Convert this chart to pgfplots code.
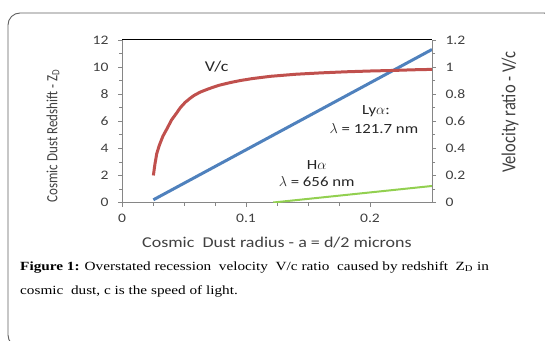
\documentclass[border=0pt]{standalone}
\usepackage{fontspec}
\setmainfont{Carlito}[FakeStretch=1.2]
\newfontfamily\plainfont{Carlito}
\newfontfamily\capfont{Liberation Serif}[FakeStretch=1.22]
\usepackage{pgfplots}
\pgfplotsset{compat=1.18}
\definecolor{rd}{RGB}{192,80,77}
\definecolor{bl}{RGB}{79,129,189}
\definecolor{gr}{RGB}{146,208,80}
\definecolor{axgray}{RGB}{134,134,134}
\definecolor{txt}{RGB}{64,64,64}
\pgfplotsset{
  common/.style={
    at={(122pt,137.5pt)}, anchor=south west, scale only axis,
    width=310pt, height=162.5pt, xmin=0, xmax=0.25,
    axis line style={axgray, line width=0.8pt},
    tick align=outside, major tick length=4pt, minor tick length=3pt,
    tick style={axgray, line width=0.6pt},
    every tick label/.append style={font=\fontsize{13}{13}\selectfont, text=txt},
    /pgf/number format/assume math mode=true,
  }
}
\begin{document}
\begin{tikzpicture}
\useasboundingbox (0pt,0pt) rectangle (545pt,340pt);
\draw[gray!75!black, line width=0.9pt, rounded corners=12pt] (8pt,-7pt) rectangle (556pt,327pt);
\begin{axis}[common,
  axis x line*=bottom, axis y line*=left,
  ymin=0, ymax=12,
  xtick={0,0.1,0.2}, minor x tick num=3,
  ytick={0,2,4,6,8,10,12}, minor y tick num=1,
  xticklabel style={yshift=-4pt},
  yticklabel style={xshift=-6pt},
]
\addplot[bl, line width=3pt, no marks] coordinates {(0.0253,0.2) (0.25,11.3)};
\addplot[gr, line width=2pt, no marks] coordinates {(0.122,0) (0.25,1.22)};
\node[font=\fontsize{15}{15}\selectfont, text=black!85] at (axis cs:0.0764,10.04) {V/c};
\node[font=\fontsize{14}{14}\selectfont, text=black!85] at (axis cs:0.2048,6.77) {Ly$\alpha$:};
\node[font=\fontsize{14}{14}\selectfont, text=black!85] at (axis cs:0.2032,5.44) {$\lambda$ = 121.7 nm};
\node[font=\fontsize{14}{14}\selectfont, text=black!85] at (axis cs:0.157,2.77) {H$\alpha$};
\node[font=\fontsize{14}{14}\selectfont, text=black!85] at (axis cs:0.157,1.52) {$\lambda$ = 656 nm};
\end{axis}
\begin{axis}[common,
  axis x line=none, axis y line*=right,
  ymin=0, ymax=1.2,
  ytick={0,0.2,0.4,0.6,0.8,1,1.2}, minor y tick num=1,
  yticklabel style={xshift=6pt},
]
\addplot[rd, line width=3pt, no marks, line join=round] coordinates {
(0.0253,0.20) (0.0265,0.28) (0.028,0.36) (0.030,0.42) (0.033,0.49)
(0.036,0.54) (0.040,0.61) (0.044,0.66) (0.047,0.70) (0.051,0.74)
(0.055,0.77) (0.058,0.79) (0.063,0.815) (0.070,0.84) (0.078,0.865)
(0.087,0.885) (0.095,0.90) (0.105,0.915) (0.120,0.932) (0.140,0.947)
(0.160,0.957) (0.180,0.965) (0.200,0.971) (0.218,0.975) (0.235,0.98) (0.250,0.983)};
\end{axis}
\draw[black, line width=1pt] (122pt,300pt) -- (432pt,300pt);
\node[rotate=90, font=\plainfont\fontsize{13}{13}\selectfont, text=txt] at (53pt,204pt) {\scalebox{1}[1.2]{Cosmic Dust Redshift - Z\textsubscript{D}}};
\node[rotate=90, font=\plainfont\fontsize{16.5}{16.5}\selectfont, text=txt] at (510pt,228pt) {\scalebox{1}[1.2]{Velocity ratio - V/c}};
\node[font=\fontsize{15}{15}\selectfont, text=txt] at (277pt,97pt) {Cosmic\ \ Dust radius - a = d/2 microns};
\node[anchor=base west, font=\capfont\fontsize{12.5}{12.5}\selectfont, inner sep=0pt] at (20pt,70pt) {\textbf{Figure 1:} Overstated recession\ \ velocity\ \ V/c ratio\ \ caused by redshift\ \ Z\textsubscript{D} in};
\node[anchor=base west, font=\capfont\fontsize{12.5}{12.5}\selectfont, inner sep=0pt] at (20pt,46pt) {cosmic\ \ dust, c is the speed of light.};
\end{tikzpicture}
\end{document}
